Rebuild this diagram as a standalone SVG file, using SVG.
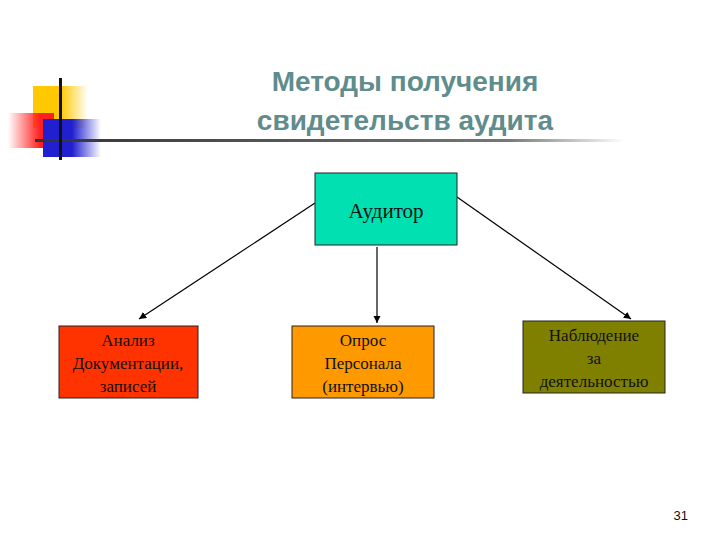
<svg xmlns="http://www.w3.org/2000/svg" width="720" height="540" viewBox="0 0 720 540">
<defs>
<style>
.t{font-family:"Liberation Serif",serif;font-size:17px;fill:#111;text-anchor:middle}
.b{stroke:#222;stroke-width:1}
.c{stroke:#000;stroke-width:1.2;fill:none;marker-end:url(#a)}
</style>
<marker id="a" markerWidth="8" markerHeight="8" refX="6" refY="3" orient="auto"><path d="M0,0 L6,3 L0,6 z" fill="#000"/></marker>
<linearGradient id="ly" x1="0" x2="1"><stop offset="0.5" stop-color="#ffc800"/><stop offset="1" stop-color="#ffc800" stop-opacity="0"/></linearGradient>
<linearGradient id="lr" x1="1" x2="0"><stop offset="0.3" stop-color="#ff2020"/><stop offset="1" stop-color="#ff2020" stop-opacity="0"/></linearGradient>
<linearGradient id="lb" x1="0" x2="1"><stop offset="0.5" stop-color="#2020d0"/><stop offset="1" stop-color="#2020d0" stop-opacity="0"/></linearGradient>
<linearGradient id="ll" x1="0" x2="1"><stop offset="0" stop-color="#333"/><stop offset="0.8" stop-color="#777"/><stop offset="1" stop-color="#fff"/></linearGradient>
</defs>
<g id="deco">
<rect x="33" y="86" width="55" height="42" fill="url(#ly)"/>
<rect x="8" y="113" width="46" height="35" fill="url(#lr)"/>
<rect x="43" y="119" width="58" height="38" fill="url(#lb)"/>
<rect x="35" y="139" width="590" height="3" fill="url(#ll)"/>
<rect x="59" y="78" width="3" height="82" fill="#111"/>
</g>
<g id="title" font-family="Liberation Sans,sans-serif" font-weight="bold" font-size="28" fill="#5f8c8c" text-anchor="middle">
<text x="405" y="91">Методы получения</text>
<text x="405" y="130">свидетельств аудита</text>
</g>
<g id="connectors">
<line class="c" x1="315" y1="203" x2="139" y2="319"/>
<line class="c" x1="377" y1="247" x2="377" y2="323"/>
<line class="c" x1="457" y1="197" x2="631" y2="319"/>
</g>
<g id="n-auditor"><rect class="b" x="315" y="173" width="142" height="72" fill="#00e0b0"/><text class="t" x="386" y="218" style="font-size:21px">Аудитор</text></g>
<g id="n-analiz"><rect class="b" x="59" y="326" width="139" height="72" fill="#ff3300"/><text class="t" x="128" y="346">Анализ</text><text class="t" x="128" y="369">Документации,</text><text class="t" x="128" y="392">записей</text></g>
<g id="n-opros"><rect class="b" x="292" y="326" width="142" height="72" fill="#ff9900"/><text class="t" x="363" y="346">Опрос</text><text class="t" x="363" y="369">Персонала</text><text class="t" x="363" y="392">(интервью)</text></g>
<g id="n-nabl"><rect class="b" x="523" y="321" width="142" height="72" fill="#808000"/><text class="t" x="594" y="341">Наблюдение</text><text class="t" x="594" y="364">за</text><text class="t" x="594" y="387">деятельностью</text></g>
<text x="688" y="520" font-family="Liberation Sans,sans-serif" font-size="13" fill="#111" text-anchor="end">31</text>
</svg>
